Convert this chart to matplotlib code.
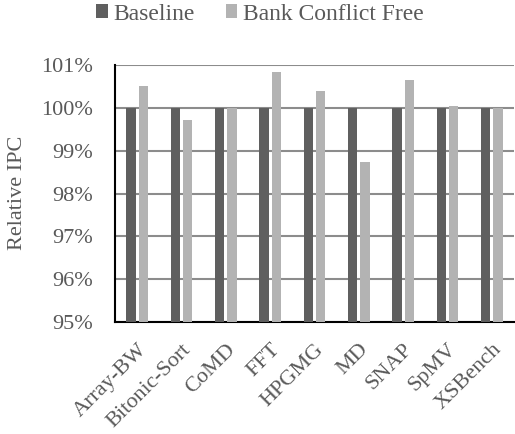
import matplotlib
matplotlib.use("Agg")
import matplotlib.pyplot as plt
import numpy as np

plt.rcParams['font.family'] = ['Liberation Serif', 'DejaVu Serif']

benchmarks = ["Array-BW", "Bitonic-Sort", "CoMD", "FFT", "HPGMG", "MD", "SNAP", "SpMV", "XSBench"]
baseline = [100.0, 100.0, 100.0, 100.0, 100.0, 100.0, 100.0, 100.0, 100.0]
bank_conflict_free = [100.50, 99.71, 100.0, 100.84, 100.39, 98.74, 100.65, 100.05, 100.0]
y_ticks = [95, 96, 97, 98, 99, 100, 101]

text_color = "#595959"
dark = "#5f5f5f"
light = "#b3b3b3"

fig = plt.figure(figsize=(5.15, 4.34), dpi=100)
ax = fig.add_axes([115 / 515, 1 - 322 / 434, 399 / 515, 257 / 434])

x = np.arange(len(benchmarks))
w = 0.215
b1 = ax.bar(x - 0.14, baseline, w, color=dark, label="Baseline", zorder=3)
b2 = ax.bar(x + 0.14, bank_conflict_free, w, color=light, label="Bank Conflict Free", zorder=3)

ax.set_xlim(-0.5, len(benchmarks) - 0.5)
ax.set_ylim(95, 101)
ax.set_yticks(y_ticks)
ax.set_yticklabels([f"{v}%" for v in y_ticks])
ax.yaxis.grid(True, color="#8c8c8c", linewidth=1.5, zorder=0)
ax.set_axisbelow(True)

for side in ("top", "right"):
    ax.spines[side].set_visible(False)
ax.spines["left"].set_color("black")
ax.spines["left"].set_linewidth(1.5)
ax.spines["bottom"].set_color("black")
ax.spines["bottom"].set_linewidth(1.5)

ax.tick_params(axis="y", length=0, pad=16, labelsize=16, labelcolor=text_color)
ax.tick_params(axis="x", length=0, pad=13, labelsize=16, labelcolor=text_color)
ax.set_xticks(x)
ax.set_xticklabels(benchmarks, rotation=45, ha="right", rotation_mode="anchor")

fig.text(18 / 515, 1 - 193 / 434, "Relative IPC", rotation=90, ha="center", va="center",
         fontsize=16, color=text_color)

leg = fig.legend(handles=[b1, b2], loc="center", bbox_to_anchor=(260 / 515, 1 - 14 / 434),
                 ncol=2, frameon=False, fontsize=17, handlelength=0.5, handleheight=0.5,
                 handletextpad=0.25, columnspacing=1.3, borderaxespad=0)
for t in leg.get_texts():
    t.set_color(text_color)

fig.savefig("out.png", dpi=100)
